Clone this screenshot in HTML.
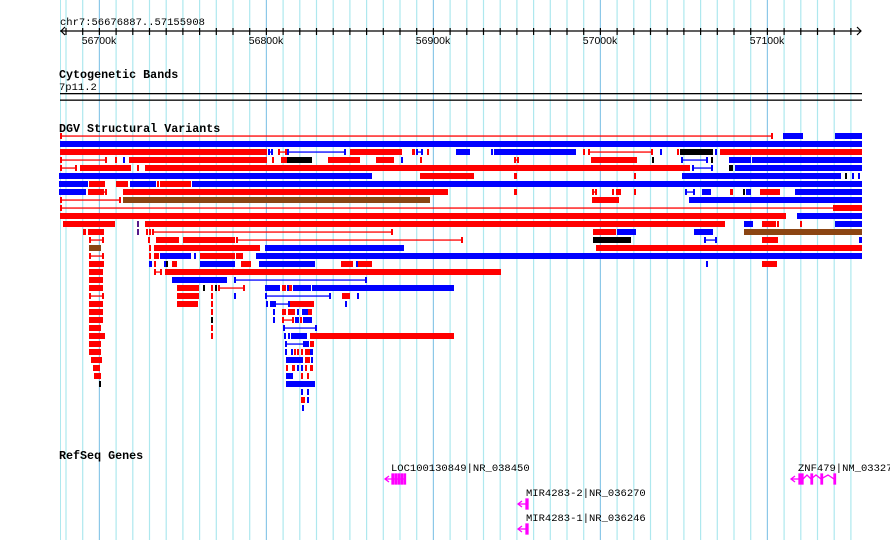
<!DOCTYPE html>
<html><head><meta charset="utf-8"><style>
html,body{margin:0;padding:0;background:#fff;}
svg{display:block}
text{font-family:"Liberation Mono",monospace;}
</style></head><body>
<svg id="s" width="890" height="540" xmlns="http://www.w3.org/2000/svg">
<rect width="890" height="540" fill="#fff"/>
<g id="grid"></g>
<g id="ruler" stroke="#000" stroke-width="1.2">
<line x1="60" y1="31" x2="861" y2="31"/>
<polyline points="65,27 61,31 65,35" fill="none"/>
<polyline points="857,27 861,31 857,35" fill="none"/>
</g>
<g id="ticks"></g>
<text x="60" y="25" font-size="10.5">chr7:56676887..57155908</text>
<g font-size="10.5" font-family="Liberation Sans, sans-serif" text-anchor="middle">
<text x="99" y="44" style="font-family:'Liberation Sans',sans-serif">56700k</text>
<text x="266" y="44" style="font-family:'Liberation Sans',sans-serif">56800k</text>
<text x="433" y="44" style="font-family:'Liberation Sans',sans-serif">56900k</text>
<text x="600" y="44" style="font-family:'Liberation Sans',sans-serif">57000k</text>
<text x="767" y="44" style="font-family:'Liberation Sans',sans-serif">57100k</text>
</g>
<text x="59" y="78" font-size="11.7" font-weight="bold">Cytogenetic Bands</text>
<text x="59" y="90" font-size="10.5">7p11.2</text>
<rect x="60" y="93" width="802" height="1.3" fill="#000"/>
<rect x="60" y="99.5" width="802" height="1.3" fill="#000"/>
<text x="59" y="132" font-size="11.7" font-weight="bold">DGV Structural Variants</text>
<g id="dgv"></g>
<text x="59" y="459" font-size="11.7" font-weight="bold">RefSeq Genes</text>
<g font-size="10.5" fill="#000">
<text x="391" y="471">LOC100130849|NR_038450</text>
<text x="526" y="496">MIR4283-2|NR_036270</text>
<text x="526" y="521">MIR4283-1|NR_036246</text>
<text x="798" y="471">ZNF479|NM_033273</text>
</g>
<g stroke="#ff00ff" fill="#ff00ff" stroke-width="1.3">
<line x1="385" y1="479" x2="405" y2="479"/><polyline points="389,476 385,479 389,482" fill="none"/>
<rect x="392" y="474" width="1.5" height="10"/><rect x="395" y="474" width="1.5" height="10"/><rect x="398" y="474" width="1.5" height="10"/><rect x="401" y="474" width="1.5" height="10"/><rect x="404" y="474" width="1.5" height="10"/>
<line x1="518" y1="504" x2="527" y2="504"/><polyline points="522,501 518,504 522,507" fill="none"/><rect x="526" y="499" width="2" height="10"/>
<line x1="518" y1="529" x2="527" y2="529"/><polyline points="522,526 518,529 522,532" fill="none"/><rect x="526" y="524" width="2" height="10"/>
<line x1="791" y1="479" x2="800" y2="479"/><polyline points="795,476 791,479 795,482" fill="none"/>
<rect x="799" y="474" width="4" height="10"/><rect x="811" y="474" width="1.5" height="10"/><rect x="821" y="474" width="1.5" height="10"/><rect x="834" y="474" width="1.5" height="10"/>
<polyline points="803,479 807,475 811,479 816,475 821,479 828,475 834,479" fill="none"/>
</g>
</svg>
<script>
var NS="http://www.w3.org/2000/svg";
function el(p,t,a){var e=document.createElementNS(NS,t);for(var k in a)e.setAttribute(k,a[k]);p.appendChild(e);return e;}
var g=document.getElementById('grid'),tk=document.getElementById('ticks');
el(g,'line',{x1:60.5,y1:0,x2:60.5,y2:540,stroke:'#aee8ee','stroke-width':1});
for(var k=-2;k<=45;k++){var x=99.4+16.7*k;if(x<64||x>852)continue;var maj=(k%10==0);
el(g,'line',{x1:x,y1:0,x2:x,y2:540,stroke:maj?'#8cc8e8':'#aee8ee','stroke-width':1.2});
el(tk,'line',{x1:x,y1:28,x2:x,y2:35,stroke:'#000','stroke-width':1.2});}
var C={r:'#ff0000',b:'#0000ff',k:'#000000',n:'#8b4513',p:'#551a8b'};
var rows=[
"R60-773 b783-803 b835-862",
"b60-862",
"r60-267 B268-273 R278-287 B287-346 r350-402 r412-415 B416-423 r427-429 b456-470 b491-493 b494-576 r583-585 R588-653 b660-662 r677-679 k680-713 b715-717 r720-862",
"R60-107 r115-117 b123-125 r129-267 r272-274 r281-287 k287-312 r328-360 r376-394 b401-403 r420-422 R514-519 r591-637 k652-654 B681-708 k711-713 b729-751 b752-862",
"R60-77 r80-131 r137-139 r145-690 B692-713 k729-733 b735-862",
"b59-372 r420-474 r514-517 r634-636 b682-841 k845-847 b852-854 b858-860",
"b59-88 r89-105 r116-128 b130-156 r157-159 r160-191 b192-862",
"b59-86 r88-102 R102-107 r123-448 r514-517 R592-597 r612-614 r616-621 r634-636 B685-695 b702-711 r730-733 k743-745 b746-751 r760-780 b795-862",
"R60-121 n123-430 r592-619 b689-862",
"R60-835 r835-862",
"r60-786 b797-862",
"r63-115 p137-139 r145-725 b744-753 r762-776 r777-779 r800-802 b835-862",
"r83-86 r88-101 R101-104 p137-139 r146-148 r149-151 R152-393 r593-616 b617-636 b694-713 n744-862",
"R89-104 r148-150 r156-179 r183-235 R236-463 k593-631 B704-717 r762-778 b859-862",
"n89-101 r149-151 r154-260 b265-404 r596-862",
"R89-104 r149-151 r154-159 b160-191 b194-196 r200-235 r236-243 b256-862",
"r89-104 b149-152 r154-156 b164-166 k166-168 r172-177 b200-235 r241-251 b259-315 r341-353 b356-358 r358-372 b706-708 r762-777",
"r89-103 R154-162 r165-501",
"r89-103 b172-227 B234-367",
"r89-103 r177-199 k203-205 r211-213 k215-217 R218-245 b265-280 r282-286 b287-289 r289-292 b293-311 b312-454",
"R89-104 r177-199 r211-213 b234-236 B265-331 r342-350 b357-359",
"r89-103 r177-198 r211-213 b266-268 b270-274 B274-290 r290-314 b345-347",
"r89-103 r211-213 b273-275 r282-286 r288-295 b297-299 b302-308 r308-312",
"r89-103 k211-213 b273-275 R282-294 b295-299 r300-302 b303-312",
"r89-101 r211-213 B283-317",
"r89-105 r211-213 b284-286 b288-290 b291-305 b305-307 r310-454",
"r89-101 B285-305 b305-309 r310-314",
"r89-101 b285-287 b291-293 r294-296 r297-299 r301-303 r305-310 b310-313",
"r91-102 b286-303 r305-310 b311-313",
"r93-100 r286-288 r292-295 b297-299 b301-303 r305-307 r310-313",
"r94-101 b286-293 r301-303 r307-309",
"k99-101 b286-311 B311-315",
"b301-303 b307-309",
"r301-305 b307-309",
"b302-304"];
var d=document.getElementById('dgv');
rows.forEach(function(r,i){var cy=136+8*i;r.split(' ').forEach(function(it){
var t=it[0],a=it.slice(1).split('-'),x1=+a[0],x2=+a[1],lc=t.toLowerCase(),c=C[lc];
if(t==lc){el(d,'rect',{x:x1,y:cy-3,width:Math.max(x2-x1,2),height:6,fill:c});}
else{el(d,'rect',{x:x1,y:cy-0.6,width:x2-x1,height:1.3,fill:c});
el(d,'rect',{x:x1,y:cy-3,width:2,height:6,fill:c});el(d,'rect',{x:x2-2,y:cy-3,width:2,height:6,fill:c});}
});});
</script>
</body></html>
